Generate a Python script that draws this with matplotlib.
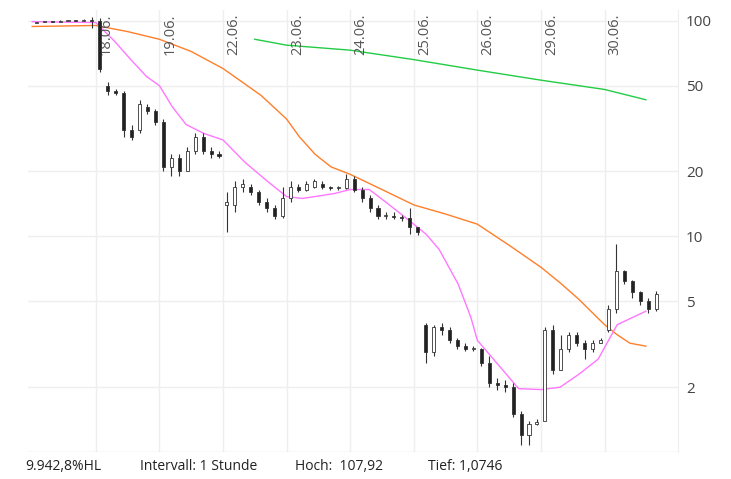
import matplotlib.pyplot as plt
import numpy as np

plt.rcParams['font.family'] = ['Open Sans', 'DejaVu Sans']

days = ['18.06.', '19.06.', '22.06.', '23.06.', '24.06.', '25.06.', '26.06.', '29.06.', '30.06.']

# hourly candles, one list per trading day (first list is 17.06.)
opens = [
    [98, 99, 99.5, 99, 100, 100.5, 100, 101],
    [100, 50, 47, 46, 31, 31, 40, 38],
    [34, 21, 23, 20, 25, 29, 25, 24],
    [14, 14, 17, 17, 16, 14.5, 13.5, 12.5],
    [15, 17, 16.5, 17, 17.5, 17, 16.8, 16.8],
    [18.5, 16.5, 15, 13.5, 12.5, 12.5, 12.3, 12.2],
    [11, 3.9, 2.9, 3.8, 3.7, 3.3, 3.1, 3.0],
    [3.0, 2.6, 2.1, 2.05, 2.0, 1.5, 1.2, 1.35],
    [1.4, 3.7, 2.4, 3.0, 3.5, 3.2, 3.0, 3.2],
    [3.7, 4.6, 6.9, 6.2, 5.5, 5.0, 4.6],
]
closes = [
    [99, 99.5, 99, 100, 100.5, 100, 101, 100],
    [60, 47, 46, 31, 29, 41, 38, 34],
    [21, 23, 20, 25, 29, 25, 24, 23.5],
    [14.5, 17, 17.5, 16, 14.5, 13.5, 12.5, 15],
    [17, 16.5, 17.5, 18, 17, 16.8, 16.8, 18.5],
    [16.5, 15, 13.5, 12.5, 12.5, 12.3, 12.2, 11],
    [10.5, 2.9, 3.8, 3.7, 3.3, 3.1, 3.0, 3.0],
    [2.6, 2.1, 2.05, 2.0, 1.5, 1.2, 1.35, 1.38],
    [3.7, 2.4, 3.0, 3.5, 3.2, 3.0, 3.2, 3.3],
    [4.6, 6.9, 6.2, 5.5, 5.0, 4.6, 5.4],
]
highs = [
    [99, 100, 100, 100.5, 101, 101, 101.5, 104],
    [103, 52, 48, 47, 33, 43, 41, 39],
    [35, 24, 24, 26, 30, 30, 26, 25],
    [16, 18, 18.5, 17.5, 16.5, 15, 14, 17],
    [18, 17.5, 18, 18.5, 18, 17.2, 17.2, 19.5],
    [19, 17, 15.5, 14, 13, 13, 12.6, 13.5],
    [11, 3.95, 3.9, 3.95, 3.8, 3.4, 3.2, 3.1],
    [3.05, 2.8, 2.2, 2.15, 2.1, 1.55, 1.4, 1.42],
    [3.8, 3.9, 3.5, 3.6, 3.6, 3.3, 3.3, 3.4],
    [4.8, 9.2, 7.0, 6.3, 5.6, 5.2, 5.6],
]
lows = [
    [97.5, 98.5, 98.5, 98.5, 99.5, 99.5, 99.5, 92],
    [58, 45, 45, 29, 28, 30, 37, 33],
    [20, 19, 19, 20, 24, 24, 23, 23],
    [10.5, 13, 16, 15.5, 14, 13, 12, 12.2],
    [14.5, 16, 16.3, 16.8, 16.6, 16.5, 16.5, 16.6],
    [16, 14.5, 13, 12, 12, 12, 11.8, 10.3],
    [10.2, 2.6, 2.8, 3.5, 3.2, 3.0, 2.95, 2.95],
    [2.5, 2.0, 1.95, 1.9, 1.45, 1.08, 1.08, 1.33],
    [1.6, 2.3, 2.4, 2.9, 3.1, 2.7, 2.9, 3.2],
    [3.6, 4.4, 6.0, 5.2, 4.8, 4.4, 4.5],
]

# moving averages (x in trading-day units)
ma_long_x = [0.0, 1.0, 1.5, 2.0, 2.5, 3.0, 3.3, 3.6, 4.0, 4.2, 4.45, 4.7, 5.0, 5.5, 6.0, 6.5, 7.0, 7.5, 8.0, 8.3, 8.6, 9.0, 9.2, 9.4, 9.65]
ma_long_y = [94, 95, 89, 82, 72, 60, 52, 45, 35, 29, 24, 21, 19.4, 16.5, 14, 12.7, 11.4, 9.1, 7.2, 6.1, 5.1, 3.9, 3.5, 3.2, 3.1]
ma_short_x = [0.0, 1.0, 1.3, 1.55, 1.8, 2.0, 2.2, 2.42, 2.7, 3.0, 3.35, 3.7, 4.0, 4.25, 4.75, 5.0, 5.3, 5.55, 5.8, 6.0, 6.2, 6.4, 6.7, 6.9, 7.0, 7.35, 7.65, 8.0, 8.3, 8.6, 8.9, 9.2, 9.65]
ma_short_y = [99, 98, 80, 66, 55, 50, 40, 33, 30, 28, 22, 18, 15.3, 15, 15.8, 16.5, 16.5, 14.5, 12.7, 11.4, 10.2, 8.7, 6.0, 4.2, 3.3, 2.5, 1.97, 1.95, 2.0, 2.3, 2.7, 3.9, 4.5]
ma_200_x = [3.5, 4.0, 5.0, 6.0, 7.0, 8.0, 9.0, 9.65]
ma_200_y = [82, 77, 73, 66, 59, 53, 48, 43]

fig = plt.figure(figsize=(7.31, 4.79), dpi=100)
ax = fig.add_axes([0.038, 0.056, 0.889, 0.923])
ax.set_yscale('log')
ax.set_ylim(1.0, 112)
ax.set_xlim(-0.07, 10.15)

w = 0.048
for d in range(len(opens)):
    n = len(opens[d])
    for k in range(n):
        x = d + (k + 0.5) / 8
        o, c, h, l = opens[d][k], closes[d][k], highs[d][k], lows[d][k]
        ax.vlines(x, l, h, color='#333333', lw=0.8, zorder=3)
        fc = 'white' if c >= o else '#222222'
        ax.bar(x, abs(c - o) or o * 0.01, w, bottom=min(o, c), color=fc,
               edgecolor='#333333', lw=0.6, zorder=4)

ax.plot(ma_long_x, ma_long_y, color='#ff7f2a', lw=1, zorder=2)
ax.plot(ma_short_x, ma_short_y, color='#ff77ff', lw=1, zorder=2)
ax.plot(ma_200_x, ma_200_y, color='#22cc44', lw=1, zorder=2)

ax.set_xticks(range(1, 10))
ax.set_xticklabels([])
ax.tick_params(axis='x', length=0)
for i, lab in enumerate(days):
    ax.text(i + 1.05, 108, lab, rotation=90, ha='left', va='top', fontsize=10.5, color='#555555')

ax.yaxis.tick_right()
ax.set_yticks([2, 5, 10, 20, 50, 100])
ax.set_yticklabels(['2', '5', '10', '20', '50', '100'], fontsize=11, color='#444444')
ax.set_yticks([], minor=True)
ax.tick_params(axis='y', length=0, pad=6)
ax.grid(True, color='#eeeeee', lw=1)
for s in ['top', 'left', 'bottom']:
    ax.spines[s].set_visible(False)
ax.spines['right'].set_color('#eeeeee')
ax.axhline(1.0, color='#dddddd', lw=1)

fy = 0.026
fig.text(25 / 731, fy, '9.942,8%HL', fontsize=10, color='#222222', va='center')
fig.text(140 / 731, fy, 'Intervall: 1 Stunde', fontsize=10, color='#222222', va='center')
fig.text(295 / 731, fy, 'Hoch:  107,92', fontsize=10, color='#222222', va='center')
fig.text(428 / 731, fy, 'Tief: 1,0746', fontsize=10, color='#222222', va='center')

fig.savefig('out.png', dpi=100)
